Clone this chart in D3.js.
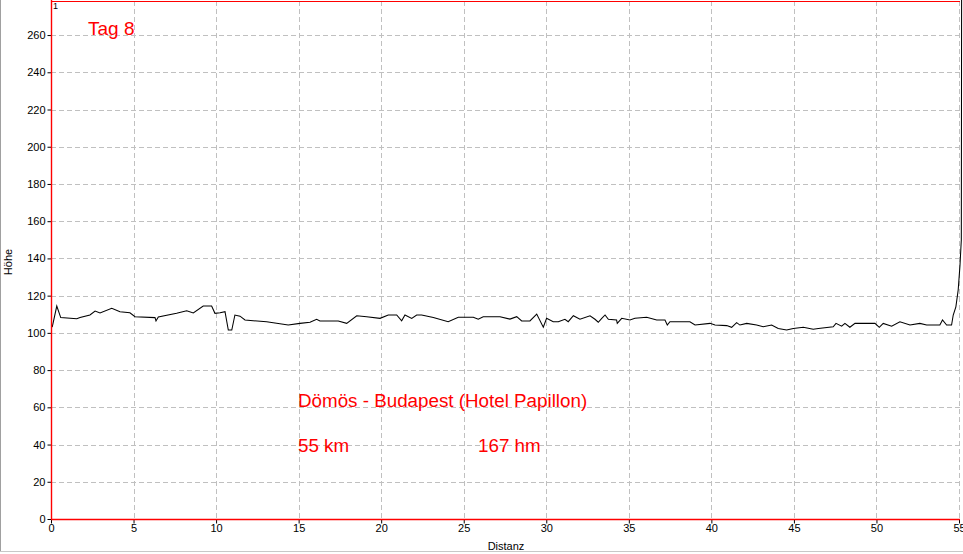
<!DOCTYPE html>
<html><head><meta charset="utf-8">
<script src="https://cdn.jsdelivr.net/npm/d3@7"></script>
<style>
html,body{margin:0;padding:0;background:#fff;}
svg{display:block;}
text{font-family:"Liberation Sans",Arial,sans-serif;}
</style></head>
<body>
<svg id="c" width="963" height="554"></svg>
<script>
const distKm = [0,0.08,0.35,0.59,1.56,1.76,2.36,2.67,2.97,3.68,4.18,4.78,5.09,6.30,6.36,6.50,7.61,8.22,8.62,9.22,9.73,9.93,10.24,10.54,10.74,10.95,11.14,11.45,11.75,12.25,13.06,14.37,15.08,15.69,16.09,16.29,17.40,17.91,18.52,19.12,19.93,20.43,20.94,21.24,21.44,21.85,22.15,22.45,23.16,24.06,24.67,25.58,25.88,26.18,27.20,27.80,28.21,28.51,29.01,29.42,29.82,30.02,30.42,30.73,31.13,31.33,31.64,32.04,32.65,32.95,33.15,33.36,33.56,33.76,34.26,34.30,34.57,35.07,35.37,36.08,36.69,37.19,37.33,37.49,37.90,38.70,39.01,39.92,40.22,40.93,41.23,41.53,41.73,42.14,42.74,43.14,43.65,44.05,44.56,44.96,45.57,46.17,46.48,47.38,47.55,47.89,48.09,48.39,48.70,49.91,50.17,50.41,50.92,51.42,52.03,52.63,53.04,53.84,54.00,54.25,54.55,54.65,54.81,54.95,55.06,55.14,55.16];
const hoehe = [103,103.3,114.4,108.2,107.6,108.3,109.6,111.7,110.7,113.2,111.4,110.8,108.7,108.2,106.4,108.5,110.5,111.9,110.7,114.4,114.4,110.5,110.8,111.4,101.5,101.5,109.6,109.0,106.9,106.5,106.0,104.2,105.1,105.7,107.3,106.4,106.4,105.1,109.2,108.7,107.8,109.6,109.6,106.5,109.6,107.8,109.6,109.6,108.2,106.0,108.4,108.4,107.3,108.7,108.7,107.4,108.7,106.4,106.4,110.1,103.0,107.8,106.0,106.0,107.3,106.0,109.2,107.3,109.2,107.3,105.7,107.8,109.6,107.3,106.9,105.1,107.8,106.9,107.8,108.4,106.9,106.9,104.2,106.0,106.0,106.0,104.2,105.1,104.2,103.9,103.0,105.5,104.2,105.1,104.2,103.3,104.2,102.4,101.5,102.4,103.0,102.0,102.4,103.3,105.1,103.6,105.1,103.0,105.1,105.1,103.0,105.1,103.6,106.0,104.2,105.1,104.2,104.2,106.9,104.2,104.2,109.6,114.0,123.0,136.4,150,300];
const yTicks = [0,20,40,60,80,100,120,140,160,180,200,220,240,260];
const xTicks = [0,5,10,15,20,25,30,35,40,45,50,55];
const titleText = "Tag 8";
const routeText = "Dömös - Budapest (Hotel Papillon)";
const distText = "55 km";
const climbText = "167 hm";

const svg = d3.select("#c");
const L = 51, R = 960, T = 1, B = 519;
const x = d3.scaleLinear().domain([0,55.06]).range([L,R]);
const y = d3.scaleLinear().domain([0,278.3]).range([B,T]);

// window borders
svg.append("line").attr("x1",0.5).attr("x2",0.5).attr("y1",0).attr("y2",552).attr("stroke","#a0a0a0").attr("stroke-width",1);
svg.append("line").attr("x1",0).attr("x2",963).attr("y1",551.5).attr("y2",551.5).attr("stroke","#c8c8c8").attr("stroke-width",1);

// grid
const g = svg.append("g");
g.selectAll("line.gy").data(yTicks.filter(d=>d>0)).join("line")
  .attr("x1",L).attr("x2",R).attr("y1",d=>Math.round(y(d))+0.5).attr("y2",d=>Math.round(y(d))+0.5)
  .attr("stroke","#c0c0c0").attr("stroke-dasharray","5,3");
g.selectAll("line.gx").data(xTicks.filter(d=>d>0)).join("line")
  .attr("x1",d=>Math.round(x(d))+0.5).attr("x2",d=>Math.round(x(d))+0.5).attr("y1",T).attr("y2",B)
  .attr("stroke","#c0c0c0").attr("stroke-dasharray","5,3");

// axes
const yAxis = d3.axisLeft(y).tickValues(yTicks).tickSize(4).tickPadding(2);
const ya = svg.append("g").attr("transform",`translate(${L+0.5},0)`).call(yAxis);
const xAxis = d3.axisBottom(x).tickValues(xTicks).tickSize(4).tickPadding(1);
const xa = svg.append("g").attr("transform",`translate(0,${B+0.5})`).call(xAxis);
[ya,xa].forEach(a=>{
  a.select(".domain").remove();
  a.selectAll(".tick line").attr("stroke","#000");
  a.selectAll(".tick text").attr("fill","#000").style("font-size","11px").style("font-family","'Liberation Sans',Arial,sans-serif");
});

// profile line
svg.append("clipPath").attr("id","clip").append("rect").attr("x",L).attr("y",0).attr("width",963-L).attr("height",B);
const line = d3.line().x((d,i)=>x(distKm[i])).y(d=>y(d));
svg.append("path").datum(hoehe).attr("d",line).attr("fill","none").attr("stroke","#000").attr("stroke-width",1.05).attr("clip-path","url(#clip)");

// red frame lines
svg.append("line").attr("x1",L+0.5).attr("x2",L+0.5).attr("y1",0).attr("y2",B+1).attr("stroke","#ff0000").attr("stroke-width",1.4);
svg.append("line").attr("x1",L).attr("x2",R).attr("y1",B+0.5).attr("y2",B+0.5).attr("stroke","#ff0000").attr("stroke-width",1.6);
svg.append("line").attr("x1",L).attr("x2",R).attr("y1",1.5).attr("y2",1.5).attr("stroke","#ff0000").attr("stroke-width",1);

// labels
svg.append("text").attr("x",53).attr("y",9).style("font-size","9px").attr("fill","#000").text("1");
svg.append("text").attr("transform","translate(12,262) rotate(-90)").attr("text-anchor","middle").style("font-size","11px").attr("fill","#000").text("Höhe");
svg.append("text").attr("x",506).attr("y",550).attr("text-anchor","middle").style("font-size","11px").attr("fill","#000").text("Distanz");

const red = "#ff0000";
svg.append("text").attr("x",88).attr("y",35).style("font-size","19px").attr("fill",red).text(titleText);
svg.append("text").attr("x",298).attr("y",407).style("font-size","18.8px").attr("fill",red).text(routeText);
svg.append("text").attr("x",298).attr("y",452).style("font-size","18.8px").attr("fill",red).text(distText);
svg.append("text").attr("x",478).attr("y",452).style("font-size","18.8px").attr("fill",red).text(climbText);
</script>
</body></html>
